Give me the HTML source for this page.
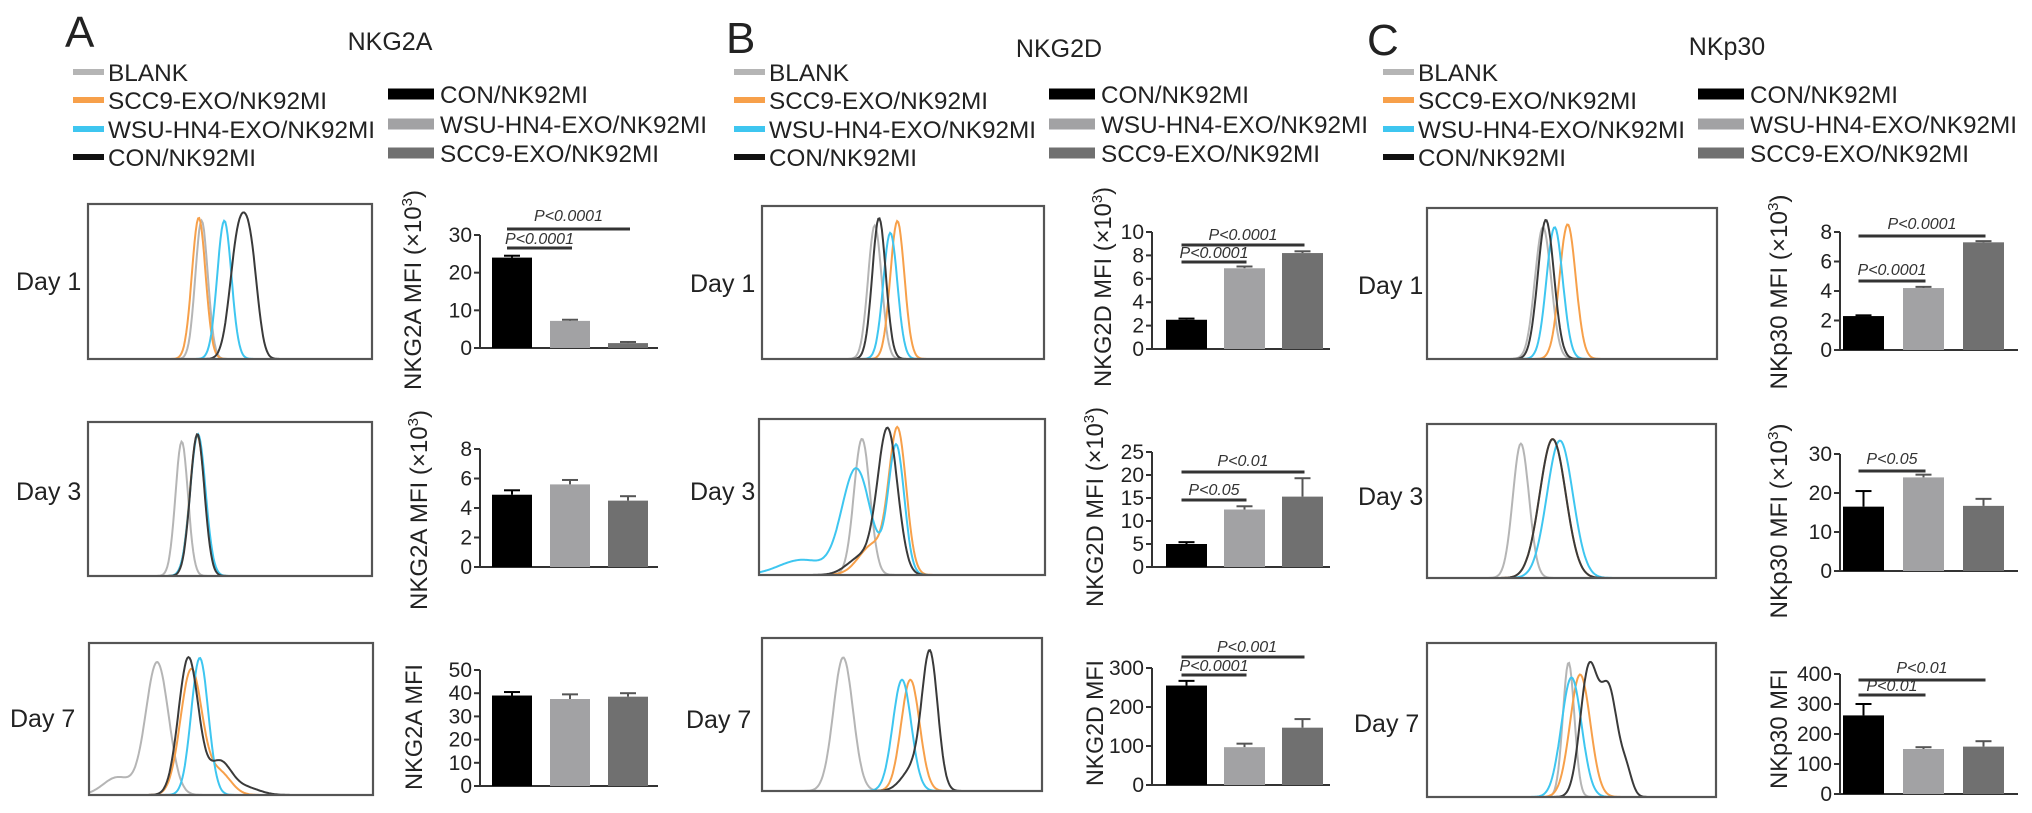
<!DOCTYPE html>
<html><head><meta charset="utf-8"><style>
html,body{margin:0;padding:0;background:#fff;}
svg{display:block;font-family:"Liberation Sans",Arial,sans-serif;}
</style></head><body>
<svg id="fig" xmlns="http://www.w3.org/2000/svg" width="2032" height="813" viewBox="0 0 2032 813"></svg>
<script>
// ---------- bar chart data ----------
const groups = ["CON/NK92MI","WSU-HN4-EXO/NK92MI","SCC9-EXO/NK92MI"];
const a1Values=[24,7.2,1.3], a1Err=[0.5,0.3,0.3], a1Ticks=[0,10,20,30];
const a3Values=[4.9,5.6,4.5], a3Err=[0.3,0.3,0.3], a3Ticks=[0,2,4,6,8];
const a7Values=[39,37.5,38.5], a7Err=[1.5,2,1.5], a7Ticks=[0,10,20,30,40,50];
const b1Values=[2.5,6.9,8.2], b1Err=[0.1,0.15,0.15], b1Ticks=[0,2,4,6,8,10];
const b3Values=[5,12.5,15.3], b3Err=[0.4,0.7,4], b3Ticks=[0,5,10,15,20,25];
const b7Values=[255,97,147], b7Err=[12,9,22], b7Ticks=[0,100,200,300];
const c1Values=[2.3,4.2,7.3], c1Err=[0.05,0.08,0.08], c1Ticks=[0,2,4,6,8];
const c3Values=[16.5,24,16.7], c3Err=[4,0.7,1.8], c3Ticks=[0,10,20,30];
const c7Values=[262,150,158], c7Err=[38,6,18], c7Ticks=[0,100,200,300,400];

// ---------- histogram data: [center(frac), sigma(frac), height(frac)] components ----------
const histA1={blank:[[0.40,0.022,0.92]],orange:[[0.39,0.024,0.94]],cyan:[[0.48,0.025,0.92]],con:[[0.53,0.03,0.8],[0.575,0.025,0.55]]};
const histA3={blank:[[0.33,0.022,0.9]],orange:[[0.385,0.026,0.94]],cyan:[[0.387,0.027,0.95]],con:[[0.385,0.025,0.95]]};
const histA7={blank:[[0.24,0.04,0.9],[0.1,0.05,0.12]],orange:[[0.36,0.038,0.85],[0.46,0.04,0.15]],cyan:[[0.39,0.03,0.93]],con:[[0.35,0.035,0.93],[0.46,0.04,0.22],[0.55,0.05,0.05]]};
const histB1={blank:[[0.40,0.024,0.9]],orange:[[0.48,0.025,0.93]],cyan:[[0.455,0.025,0.85]],con:[[0.415,0.024,0.95]]};
const histB3={blank:[[0.36,0.028,0.9]],orange:[[0.485,0.03,0.93],[0.4,0.05,0.2]],cyan:[[0.34,0.05,0.7],[0.48,0.028,0.85],[0.15,0.08,0.1]],con:[[0.45,0.035,0.95],[0.36,0.05,0.12]]};
const histB7={blank:[[0.29,0.035,0.9]],orange:[[0.53,0.033,0.75]],cyan:[[0.5,0.033,0.75]],con:[[0.6,0.028,0.9],[0.54,0.04,0.15]]};
const histC1={blank:[[0.40,0.028,0.9]],orange:[[0.485,0.028,0.92]],cyan:[[0.44,0.028,0.9]],con:[[0.41,0.028,0.95]]};
const histC3={blank:[[0.325,0.028,0.9]],orange:[[0.435,0.045,0.93]],cyan:[[0.46,0.045,0.92]],con:[[0.435,0.045,0.93]]};
const histC7={blank:[[0.49,0.02,0.9]],orange:[[0.53,0.035,0.82]],cyan:[[0.5,0.035,0.8]],con:[[0.56,0.03,0.85],[0.63,0.03,0.7],[0.69,0.02,0.15]]};

const NS="http://www.w3.org/2000/svg";
const svg=document.getElementById('fig');
function el(tag,attrs,parent){const e=document.createElementNS(NS,tag);for(const k in attrs)e.setAttribute(k,attrs[k]);(parent||svg).appendChild(e);return e;}

const barFill=["#000000","#a2a2a4","#707070"];
const histColors={blank:"#b5b5b5",orange:"#f7a04a",cyan:"#3ec6f0",con:"#3a3a3a"};
const histOrder=["blank","orange","cyan","con"];

function drawHist(box,data,name){
  const g=el('g',{});
  
  
  const [x,y,w,h]=box;
  histOrder.forEach(k=>{
    const comps=data[k];let d="";
    for(let i=0;i<=240;i++){
      const f=i/240;let v=0;
      comps.forEach(c=>{v+=c[2]*Math.exp(-0.5*Math.pow((f-c[0])/c[1],2));});
      v=Math.min(v,1);
      d+=(i?"L":"M")+(x+f*w).toFixed(1)+","+(y+h-v*h*0.97).toFixed(1);
    }
    const p=el('path',{d:d,fill:"none",stroke:histColors[k],"stroke-width":2},g);
    
    
  });
  const r=el('rect',{x:x,y:y,width:w,height:h,fill:"none",stroke:"#555","stroke-width":2.2},g);
  
  
}

function drawBars(cfg){
  const g=el('g',{});
  
  
  const maxV=cfg.ticks[cfg.ticks.length-1];
  const yS=v=>cfg.y0-(v/maxV)*(cfg.y0-cfg.yTop);
  const ax=cfg.axisX;
  el('line',{x1:ax,y1:cfg.y0,x2:ax,y2:cfg.yTop,stroke:"#333","stroke-width":2},g);
  el('line',{x1:ax,y1:cfg.y0,x2:ax+178,y2:cfg.y0,stroke:"#333","stroke-width":2},g);
  cfg.ticks.forEach(t=>{
    el('line',{x1:ax-6,y1:yS(t),x2:ax,y2:yS(t),stroke:"#333","stroke-width":2},g);
    const tx=el('text',{x:ax-8,y:yS(t)+7,"text-anchor":"end","font-size":21,fill:"#222"},g);
    tx.textContent=t;
    
    
  });
  cfg.values.forEach((v,i)=>{
    const bx=ax+cfg.gap+i*cfg.pitch, bw=cfg.bw;
    const top=yS(v), et=yS(v+cfg.err[i]);
    const cx=bx+bw/2;
    el('line',{x1:cx,y1:top,x2:cx,y2:et,stroke:barFill[i]==="#000000"?"#000":"#555","stroke-width":2},g);
    el('line',{x1:cx-8,y1:et,x2:cx+8,y2:et,stroke:barFill[i]==="#000000"?"#000":"#555","stroke-width":2},g);
    const r=el('rect',{x:bx,y:top,width:bw,height:cfg.y0-top,fill:barFill[i]},g);
    
    
  });
  // axis title
  const tx=cfg.titleX+9, ty=cfg.titleY;
  const t=el('text',{x:tx,y:ty,"text-anchor":"middle","font-size":24,fill:"#222",transform:`rotate(-90 ${tx} ${ty})`,textLength:cfg.titleLen,lengthAdjust:"spacingAndGlyphs"},g);
  
  
  if(cfg.sup){
    t.textContent=cfg.title+" (×10";
    const s=el('tspan',{dy:-9,"font-size":15},t);s.textContent="3";
    const s2=el('tspan',{dy:9},t);s2.textContent=")";
  } else t.textContent=cfg.title;
  // significance
  (cfg.sig||[]).forEach(s=>{
    const c1=ax+cfg.gap+s.a*cfg.pitch+cfg.bw/2-5, c2=ax+cfg.gap+s.b*cfg.pitch+cfg.bw/2+2;
    el('line',{x1:c1,y1:s.y,x2:c2,y2:s.y,stroke:"#333","stroke-width":3},g);
    const st=el('text',{x:(c1+c2)/2+s.dx,y:s.ty,"text-anchor":"middle","font-size":16,"font-style":"italic",fill:"#333"},g);
    st.textContent=s.text;
    
    
  });
}

function text(x,y,str,size,name,extra){
  const t=el('text',Object.assign({x:x,y:y,"font-size":size,fill:"#222"},extra||{}));
  t.textContent=str;
  
  
  return t;
}

const panels=[
 {letter:"A",ox:0,lb:47,title:"NKG2A",tx:390,tb:50},
 {letter:"B",ox:661,lb:53,title:"NKG2D",tx:1059,tb:57},
 {letter:"C",ox:1310,lb:55,title:"NKp30",tx:1727,tb:55}
];
panels.forEach(p=>{
  text(65+p.ox-(p.letter==="C"?8:0),p.lb,p.letter,44,'panel-letter-'+p.letter.toLowerCase());
  text(p.tx,p.tb,p.title,25,'panel-title',{"text-anchor":"middle"});
  const lg=el('g',{});
  
  
  const left=[["BLANK","#b5b5b5",80],["SCC9-EXO/NK92MI","#f7a04a",219],["WSU-HN4-EXO/NK92MI","#3ec6f0",267],["CON/NK92MI","#111",148]];
  const lrows=[81,109,138,166];
  left.forEach((e,i)=>{
    el('line',{x1:73+p.ox,y1:lrows[i]-9,x2:104+p.ox,y2:lrows[i]-9,stroke:e[1],"stroke-width":6},lg);
    const t=el('text',{x:108+p.ox,y:lrows[i],"font-size":24,fill:"#222",textLength:e[2],lengthAdjust:"spacingAndGlyphs"},lg);
    t.textContent=e[0];
    
    
  });
  const right=[["CON/NK92MI","#000",148],["WSU-HN4-EXO/NK92MI","#a2a2a4",267],["SCC9-EXO/NK92MI","#707070",219]];
  const rrows=[103,133,162];
  right.forEach((e,i)=>{
    el('line',{x1:388+p.ox,y1:rrows[i]-9,x2:434+p.ox,y2:rrows[i]-9,stroke:e[1],"stroke-width":11},lg);
    const t=el('text',{x:440+p.ox,y:rrows[i],"font-size":24,fill:"#222",textLength:e[2],lengthAdjust:"spacingAndGlyphs"},lg);
    t.textContent=e[0];
    
    
  });
});

// day labels
[[16,290,"Day 1"],[16,500,"Day 3"],[10,727,"Day 7"],
 [690,292,"Day 1"],[690,500,"Day 3"],[686,728,"Day 7"],
 [1358,294,"Day 1"],[1358,505,"Day 3"],[1354,732,"Day 7"]].forEach(d=>text(d[0],d[1],d[2],25,'day-label'));

// histograms
drawHist([88,204,284,155],histA1,'histogram-a-day1');
drawHist([88,422,284,154],histA3,'histogram-a-day3');
drawHist([89,643,284,152],histA7,'histogram-a-day7');
drawHist([762,206,282,153],histB1,'histogram-b-day1');
drawHist([759,419,286,156],histB3,'histogram-b-day3');
drawHist([762,638,280,153],histB7,'histogram-b-day7');
drawHist([1427,208,290,151],histC1,'histogram-c-day1');
drawHist([1427,424,289,154],histC3,'histogram-c-day3');
drawHist([1427,643,289,154],histC7,'histogram-c-day7');

// bar charts
const A={axisX:480,gap:12,pitch:58,bw:40}, B={axisX:1152,gap:14,pitch:58,bw:41}, C={axisX:1840,gap:3,pitch:60,bw:41};
drawBars(Object.assign({name:'bar-chart-a-day1',y0:348,yTop:235,ticks:a1Ticks,values:a1Values,err:a1Err,title:"NKG2A MFI",sup:true,titleX:412,titleY:290,titleLen:200,
  sig:[{a:0,b:2,y:229,ty:221,text:"P<0.0001",dx:0},{a:0,b:1,y:248,ty:244,text:"P<0.0001",dx:0}]},A));
drawBars(Object.assign({name:'bar-chart-a-day3',y0:567,yTop:449,ticks:a3Ticks,values:a3Values,err:a3Err,title:"NKG2A MFI",sup:true,titleX:418,titleY:510,titleLen:200},A));
drawBars(Object.assign({name:'bar-chart-a-day7',y0:786,yTop:670,ticks:a7Ticks,values:a7Values,err:a7Err,title:"NKG2A MFI",sup:false,titleX:413,titleY:727,titleLen:126},A));
drawBars(Object.assign({name:'bar-chart-b-day1',y0:349,yTop:232,ticks:b1Ticks,values:b1Values,err:b1Err,title:"NKG2D MFI",sup:true,titleX:1102,titleY:287,titleLen:200,
  sig:[{a:0,b:2,y:245,ty:240,text:"P<0.0001",dx:0},{a:0,b:1,y:262,ty:258,text:"P<0.0001",dx:0}]},B));
drawBars(Object.assign({name:'bar-chart-b-day3',y0:567,yTop:452,ticks:b3Ticks,values:b3Values,err:b3Err,title:"NKG2D MFI",sup:true,titleX:1094,titleY:507,titleLen:200,
  sig:[{a:0,b:2,y:472,ty:466,text:"P<0.01",dx:0},{a:0,b:1,y:500,ty:495,text:"P<0.05",dx:0}]},B));
drawBars(Object.assign({name:'bar-chart-b-day7',y0:785,yTop:668,ticks:b7Ticks,values:b7Values,err:b7Err,title:"NKG2D MFI",sup:false,titleX:1094,titleY:723,titleLen:126,
  sig:[{a:0,b:2,y:657,ty:652,text:"P<0.001",dx:4},{a:0,b:1,y:675,ty:671,text:"P<0.0001",dx:0}]},B));
drawBars(Object.assign({name:'bar-chart-c-day1',y0:350,yTop:232,ticks:c1Ticks,values:c1Values,err:c1Err,title:"NKp30 MFI",sup:true,titleX:1778,titleY:292,titleLen:195,
  sig:[{a:0,b:2,y:236,ty:229,text:"P<0.0001",dx:0},{a:0,b:1,y:281,ty:275,text:"P<0.0001",dx:0}]},C));
drawBars(Object.assign({name:'bar-chart-c-day3',y0:571,yTop:454,ticks:c3Ticks,values:c3Values,err:c3Err,title:"NKp30 MFI",sup:true,titleX:1778,titleY:521,titleLen:195,
  sig:[{a:0,b:1,y:471,ty:464,text:"P<0.05",dx:0}]},C));
drawBars(Object.assign({name:'bar-chart-c-day7',y0:794,yTop:674,ticks:c7Ticks,values:c7Values,err:c7Err,title:"NKp30 MFI",sup:false,titleX:1778,titleY:729,titleLen:120,
  sig:[{a:0,b:2,y:680,ty:673,text:"P<0.01",dx:0},{a:0,b:1,y:695,ty:691,text:"P<0.01",dx:0}]},C));
</script>
</body></html>
